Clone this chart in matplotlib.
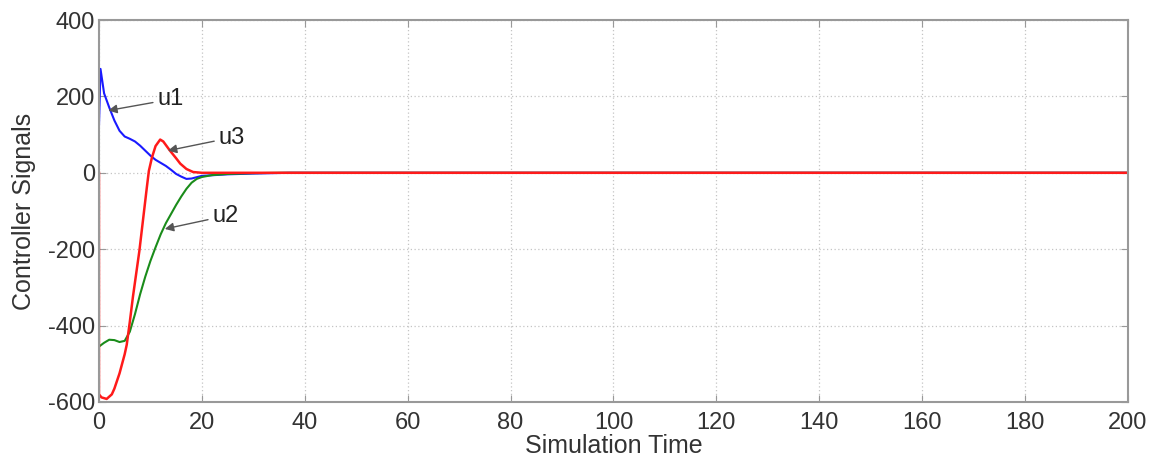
import matplotlib
matplotlib.use("Agg")
import matplotlib.pyplot as plt

plt.rcParams['font.family'] = ['Liberation Sans', 'DejaVu Sans']
plt.rcParams['axes.unicode_minus'] = False

# controller signals
t_u1 = [0, 0, 0.3, 1, 2, 3, 4, 5, 6, 7, 8, 9, 10, 11, 12, 13, 14, 15, 16, 17, 18, 20, 25, 30, 37, 200]
u1 = [0, 120, 272, 208, 171, 137, 110, 95, 89, 82, 71, 58, 45, 34, 26, 18, 8, -3, -10, -16, -15, -8, -4, -2, 0, 0]

t_u2 = [0, 0, 1, 2, 3, 4, 5, 6, 7, 8, 9, 10, 11, 12, 13, 14, 15, 16, 17, 18, 19, 20, 22, 25, 30, 35, 200]
u2 = [0, -455, -445, -437, -438, -443, -440, -416, -370, -318, -272, -231, -195, -161, -132, -108, -84, -62, -42, -26, -16, -11, -6, -3, -1, 0, 0]

t_u3 = [0, 0, 0.5, 1.5, 2.5, 3, 4, 5, 5.4, 6, 6.6, 7.85, 9.3, 9.7, 10.3, 11, 11.9, 12.5, 13.8, 15, 15.8, 17, 18.3, 20, 200]
u3 = [0, -580, -588, -592, -580, -565, -525, -475, -450, -390, -325, -205, -39, 5, 40, 70, 87, 82, 58, 38, 24, 10, 2, 0, 0]

labels = ['u1', 'u2', 'u3']
label_pos = [(11.3, 192), (22.0, -113), (23.2, 92)]
arrow_tip = [(1.8, 163), (12.8, -147), (13.4, 58)]

fig = plt.figure(figsize=(11.56, 4.62), dpi=100)
ax = fig.add_axes([0.0856, 0.1299, 0.8902, 0.8268])

ax.plot(t_u1, u1, color='#1a1aff', lw=1.5)
ax.plot(t_u2, u2, color='#1a8c1a', lw=1.5)
ax.plot(t_u3, u3, color='#ff1a1a', lw=1.8)

for lab, (tx, ty), (ax_, ay) in zip(labels, label_pos, arrow_tip):
    ax.annotate(lab, xy=(ax_, ay), xytext=(tx, ty), fontsize=17, color='#222222',
                va='center', ha='left',
                arrowprops=dict(arrowstyle='-|>', color='#555555', lw=1.0,
                                mutation_scale=13, shrinkA=1, shrinkB=0))

ax.set_xlim(0, 200)
ax.set_ylim(-600, 400)
ax.set_xticks(range(0, 201, 20))
ax.set_yticks(range(-600, 401, 200))
ax.grid(True, linestyle=(0, (1, 2)), color='#c4c4c4', lw=0.9)
ax.tick_params(direction='in', top=True, right=True, labelsize=17,
               labelcolor='#333333', color='#999999', length=5)
ax.tick_params(axis='x', pad=7)
ax.tick_params(axis='y', pad=3)
for s in ax.spines.values():
    s.set_color('#999999')
    s.set_linewidth(1.5)

ax.set_xlabel('Simulation Time', fontsize=18, color='#333333', labelpad=0)
ax.set_ylabel('Controller Signals', fontsize=18, color='#333333', labelpad=8)

fig.savefig('out.png', dpi=100)
